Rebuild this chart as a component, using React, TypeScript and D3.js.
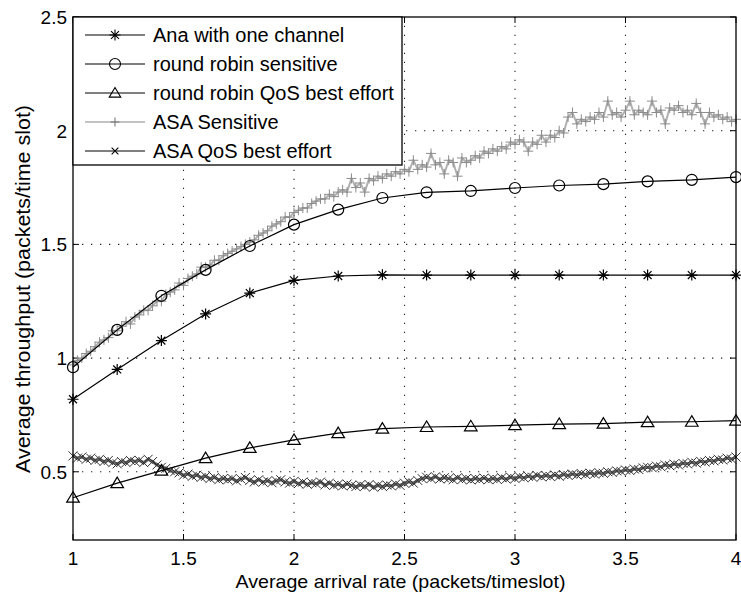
import React from 'react';
import * as d3 from 'd3';

// ---------- data ----------
const rateMarks = [1, 1.2, 1.4, 1.6, 1.8, 2, 2.2, 2.4, 2.6, 2.8, 3, 3.2, 3.4, 3.6, 3.8, 4];
const anaOneChannel = [0.819, 0.95, 1.077, 1.194, 1.286, 1.342, 1.361, 1.366, 1.365, 1.365, 1.365, 1.365, 1.365, 1.365, 1.365, 1.365];
const rrSensitive = [0.96, 1.124, 1.274, 1.388, 1.493, 1.587, 1.653, 1.704, 1.729, 1.735, 1.748, 1.759, 1.765, 1.777, 1.784, 1.796];
const rrQosBestEffort = [0.386, 0.45, 0.505, 0.56, 0.605, 0.64, 0.67, 0.69, 0.697, 0.7, 0.705, 0.71, 0.712, 0.718, 0.72, 0.725];

// dense sampling of the ASA simulations, arrival rate 1.00 .. 4.00 step 0.02
const asaRates = d3.range(0, 151).map((i) => 1 + i * 0.02);
const asaSensitive = [
  0.97, 0.99, 1.0, 1.02, 1.03, 1.05, 1.07, 1.08, 1.09, 1.12,
  1.12, 1.14, 1.16, 1.15, 1.18, 1.19, 1.21, 1.21, 1.23, 1.25,
  1.25, 1.28, 1.29, 1.3, 1.33, 1.32, 1.35, 1.36, 1.37, 1.4,
  1.4, 1.41, 1.43, 1.43, 1.45, 1.46, 1.47, 1.48, 1.49, 1.5,
  1.51, 1.52, 1.54, 1.55, 1.56, 1.58, 1.59, 1.6, 1.62, 1.62,
  1.64, 1.65, 1.66, 1.66, 1.68, 1.69, 1.7, 1.7, 1.72, 1.71,
  1.73, 1.74, 1.73, 1.79, 1.75, 1.77, 1.73, 1.79, 1.78, 1.8,
  1.79, 1.81, 1.8, 1.82, 1.81, 1.83, 1.82, 1.87, 1.83, 1.85,
  1.84, 1.9, 1.85, 1.86, 1.81, 1.87, 1.86, 1.8, 1.88, 1.86,
  1.87, 1.89, 1.88, 1.91, 1.9, 1.92, 1.91, 1.93, 1.92, 1.95,
  1.94, 1.96, 1.95, 1.91, 1.95, 1.94, 1.98, 1.95, 1.98, 1.97,
  2.0, 1.99, 2.06, 2.08, 2.03, 2.05, 2.04, 2.06, 2.05, 2.08,
  2.06, 2.13, 2.07, 2.08, 2.06, 2.09, 2.13, 2.07, 2.09, 2.08,
  2.07, 2.13, 2.08, 2.09, 2.03, 2.1, 2.09, 2.11, 2.08, 2.09,
  2.07, 2.12, 2.08, 2.03, 2.08, 2.06, 2.07, 2.05, 2.06, 2.04,
  2.05,
];
const asaQosBestEffort = [
  0.57, 0.56, 0.565, 0.555, 0.56, 0.55, 0.555, 0.545, 0.55, 0.54,
  0.535, 0.545, 0.54, 0.55, 0.545, 0.55, 0.54, 0.555, 0.545, 0.53,
  0.52, 0.515, 0.505, 0.5, 0.495, 0.485, 0.49, 0.48, 0.485, 0.475,
  0.48, 0.47, 0.475, 0.465, 0.47, 0.465, 0.47, 0.46, 0.468, 0.475,
  0.462, 0.455, 0.465, 0.455, 0.46, 0.452, 0.46, 0.465, 0.455, 0.45,
  0.458, 0.448, 0.455, 0.445, 0.452, 0.448, 0.455, 0.442, 0.45, 0.44,
  0.445, 0.438, 0.446, 0.44, 0.435, 0.442, 0.436, 0.444, 0.432, 0.44,
  0.435, 0.442, 0.438, 0.446, 0.44, 0.45, 0.456, 0.45, 0.462, 0.47,
  0.476, 0.47, 0.478, 0.468, 0.474, 0.47, 0.465, 0.474, 0.466, 0.47,
  0.464, 0.47, 0.466, 0.472, 0.465, 0.47, 0.466, 0.474, 0.468, 0.476,
  0.47, 0.478, 0.474, 0.48, 0.476, 0.484, 0.478, 0.483, 0.479, 0.486,
  0.48, 0.488, 0.484, 0.49, 0.486, 0.492, 0.488, 0.494, 0.49, 0.496,
  0.493, 0.5, 0.497, 0.504, 0.502, 0.508, 0.505, 0.512, 0.51, 0.517,
  0.52, 0.518, 0.525, 0.522, 0.53, 0.527, 0.534, 0.53, 0.537, 0.535,
  0.542, 0.538, 0.546, 0.543, 0.55, 0.548, 0.555, 0.552, 0.56, 0.556,
  0.565,
];

const xTicks = [1, 1.5, 2, 2.5, 3, 3.5, 4];
const yTicks = [0.5, 1, 1.5, 2, 2.5];
const legendLabels = [
  'Ana with one channel',
  'round robin sensitive',
  'round robin QoS best effort',
  'ASA Sensitive',
  'ASA QoS best effort',
];

// ---------- layout ----------
const W = 741;
const H = 593;
const L = 73, R = 736, T = 17, B = 540;
const FONT = '"Liberation Sans", Arial, Helvetica, sans-serif';

type MarkerType = 'star' | 'circle' | 'triangle' | 'plus' | 'cross';

function Marker({ type, cx, cy, s, color, sw = 1 }: { type: MarkerType; cx: number; cy: number; s: number; color: string; sw?: number }) {
  const h = s / 2;
  if (type === 'circle') return <circle cx={cx} cy={cy} r={h} fill="none" stroke={color} strokeWidth={sw} />;
  if (type === 'triangle') {
    const pts = `${cx},${cy - h} ${cx - h * 1.05},${cy + h * 0.75} ${cx + h * 1.05},${cy + h * 0.75}`;
    return <polygon points={pts} fill="none" stroke={color} strokeWidth={sw} />;
  }
  if (type === 'plus')
    return <path d={`M${cx - h},${cy}H${cx + h}M${cx},${cy - h}V${cy + h}`} stroke={color} strokeWidth={sw} fill="none" />;
  if (type === 'cross') {
    const d = h * 0.75;
    return <path d={`M${cx - d},${cy - d}L${cx + d},${cy + d}M${cx - d},${cy + d}L${cx + d},${cy - d}`} stroke={color} strokeWidth={sw} fill="none" />;
  }
  const d = h * 0.72;
  return (
    <path
      d={`M${cx - h},${cy}H${cx + h}M${cx},${cy - h}V${cy + h}M${cx - d},${cy - d}L${cx + d},${cy + d}M${cx - d},${cy + d}L${cx + d},${cy - d}`}
      stroke={color}
      strokeWidth={sw}
      fill="none"
    />
  );
}

export default function App() {
  const x = d3.scaleLinear().domain([1, 4]).range([L, R]);
  const y = d3.scaleLinear().domain([0.2, 2.5]).range([B, T]);
  const line = d3
    .line<[number, number]>()
    .x((d) => x(d[0]))
    .y((d) => y(d[1]));

  const zip = (xs: number[], ys: number[]) => xs.map((v, i) => [v, ys[i]] as [number, number]);

  const series = [
    { pts: zip(asaRates, asaSensitive), marker: 'plus' as MarkerType, lineColor: '#b0b0b0', markColor: '#8c8c8c', size: 10, lw: 2, msw: 1 },
    { pts: zip(asaRates, asaQosBestEffort), marker: 'cross' as MarkerType, lineColor: '#6a6a6a', markColor: '#333', size: 12, lw: 3, msw: 1 },
    { pts: zip(rateMarks, anaOneChannel), marker: 'star' as MarkerType, lineColor: '#000', markColor: '#000', size: 11, lw: 1.2, msw: 1.2 },
    { pts: zip(rateMarks, rrSensitive), marker: 'circle' as MarkerType, lineColor: '#000', markColor: '#000', size: 11, lw: 1.2, msw: 1.2 },
    { pts: zip(rateMarks, rrQosBestEffort), marker: 'triangle' as MarkerType, lineColor: '#000', markColor: '#000', size: 12, lw: 1.2, msw: 1.2 },
  ];

  const legendSeries = [
    { marker: 'star' as MarkerType, color: '#000' },
    { marker: 'circle' as MarkerType, color: '#000' },
    { marker: 'triangle' as MarkerType, color: '#000' },
    { marker: 'plus' as MarkerType, color: '#777' },
    { marker: 'cross' as MarkerType, color: '#000' },
  ];

  const tickLen = 6;

  return (
    <div style={{ position: 'absolute', left: 0, top: 0 }}>
      <svg width={W} height={H} style={{ display: 'block', background: '#fff' }} fontFamily={FONT}>
        <rect x={0} y={0} width={W} height={H} fill="#fff" />
        {/* grid */}
        {xTicks.slice(1, -1).map((t) => (
          <line key={'gx' + t} x1={x(t)} x2={x(t)} y1={B} y2={T} stroke="#222" strokeWidth={1.1} strokeDasharray="1.3,7.7" />
        ))}
        {yTicks.slice(0, -1).map((t) => (
          <line key={'gy' + t} x1={L} x2={R} y1={y(t)} y2={y(t)} stroke="#222" strokeWidth={1.1} strokeDasharray="1.3,7.7" />
        ))}
        {/* ticks */}
        {xTicks.map((t) => (
          <g key={'tx' + t}>
            <line x1={x(t)} x2={x(t)} y1={B} y2={B - tickLen} stroke="#000" />
            <line x1={x(t)} x2={x(t)} y1={T} y2={T + tickLen} stroke="#000" />
            <text x={x(t)} y={565} fontSize={19} textAnchor="middle" fill="#000">
              {t}
            </text>
          </g>
        ))}
        {yTicks.map((t) => (
          <g key={'ty' + t}>
            <line x1={L} x2={L + tickLen} y1={y(t)} y2={y(t)} stroke="#000" />
            <line x1={R} x2={R - tickLen} y1={y(t)} y2={y(t)} stroke="#000" />
            <text x={67} y={y(t) + 7} fontSize={19} textAnchor="end" fill="#000">
              {t}
            </text>
          </g>
        ))}
        {/* series */}
        {series.map((s, i) => (
          <g key={'s' + i}>
            <path d={line(s.pts) || ''} fill="none" stroke={s.lineColor} strokeWidth={s.lw} />
            {s.pts.map((p, j) => (
              <Marker key={j} type={s.marker} cx={x(p[0])} cy={y(p[1])} s={s.size} color={s.markColor} sw={s.msw} />
            ))}
          </g>
        ))}
        {/* frame */}
        <rect x={L} y={T} width={R - L} height={B - T} fill="none" stroke="#000" strokeWidth={1.3} />
        {/* legend */}
        <g>
          <rect x={L} y={T} width={329} height={148} fill="#fff" stroke="#000" strokeWidth={1.3} />
          {legendLabels.map((lab, i) => {
            const cy = 35 + i * 29;
            const ls = legendSeries[i];
            return (
              <g key={'lg' + i}>
                <line x1={85} x2={145} y1={cy} y2={cy} stroke={i === 3 ? '#888' : '#000'} strokeWidth={1.1} />
                <Marker type={ls.marker} cx={115} cy={cy} s={i < 3 ? 11 : 9} color={ls.color} sw={1.1} />
                <text x={153} y={cy + 7} fontSize={20} fill="#000">
                  {lab}
                </text>
              </g>
            );
          })}
        </g>
        {/* axis labels */}
        <text x={(L + R) / 2 - 4} y={588} fontSize={19} textAnchor="middle" fill="#000" textLength={330} lengthAdjust="spacingAndGlyphs">
          Average arrival rate (packets/timeslot)
        </text>
        <text
          transform={`translate(30,289) rotate(-90)`}
          fontSize={20}
          textAnchor="middle"
          fill="#000"
          textLength={368}
          lengthAdjust="spacingAndGlyphs"
        >
          Average throughput (packets/time slot)
        </text>
      </svg>
    </div>
  );
}
